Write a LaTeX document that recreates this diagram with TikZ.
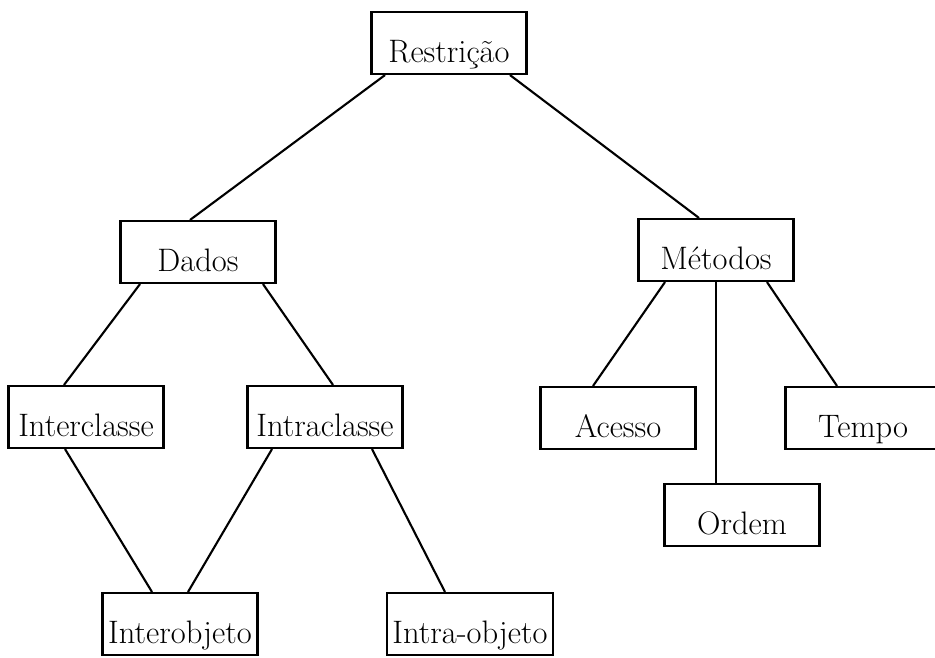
\documentclass[tikz,border=0pt]{standalone}
\begin{document}
\begin{tikzpicture}[x=0.02cm, y=-0.02cm]
    % Styles
    \tikzstyle{caixa} = [rectangle, draw, line width=1.2pt, minimum width=3.1cm, minimum height=1.24cm, inner ysep=0pt, inner xsep=3pt, text height=1cm, text depth=0.24cm, font=\fontsize{18.5}{22}\selectfont]
    \tikzstyle{ramo} = [line width=1.2pt]

    \useasboundingbox (0,0) rectangle (935,657);

    % Nodes
    \node[caixa] (restricao) at (449,43) {Restrição};
    \node[caixa] (dados) at (198,252) {Dados};
    \node[caixa] (metodos) at (716,250) {Métodos};
    \node[caixa] (inter) at (86,417) {Interclasse};
    \node[caixa] (intra) at (325,417) {Intraclasse};
    \node[caixa] (acesso) at (618,418) {Acesso};
    \node[caixa] (tempo) at (863,418) {Tempo};
    \node[caixa] (ordem) at (742,515) {Ordem};
    \node[caixa] (interobj) at (180,624) {Interobjeto};
    \node[caixa] (intraobj) at (470,624) {Intra-objeto};

    % Lines
    \draw[ramo] ([xshift=-1.28cm]restricao.south) -- ([xshift=-0.16cm]dados.north);
    \draw[ramo] ([xshift=1.22cm]restricao.south) -- ([xshift=-0.34cm]metodos.north);
    \draw[ramo] ([xshift=-1.16cm]dados.south) -- ([xshift=-0.44cm]inter.north);
    \draw[ramo] ([xshift=1.3cm]dados.south) -- ([xshift=0.16cm]intra.north);
    \draw[ramo] ([xshift=-0.42cm]inter.south) -- ([xshift=-0.56cm]interobj.north);
    \draw[ramo] ([xshift=-1.06cm]intra.south) -- ([xshift=0.16cm]interobj.north);
    \draw[ramo] ([xshift=0.94cm]intra.south) -- ([xshift=-0.5cm]intraobj.north);
    \draw[ramo] ([xshift=-1.02cm]metodos.south) -- ([xshift=-0.5cm]acesso.north);
    \draw[ramo] (metodos.south) -- (metodos.south |- ordem.north);
    \draw[ramo] ([xshift=1.02cm]metodos.south) -- ([xshift=-0.52cm]tempo.north);
\end{tikzpicture}
\end{document}
